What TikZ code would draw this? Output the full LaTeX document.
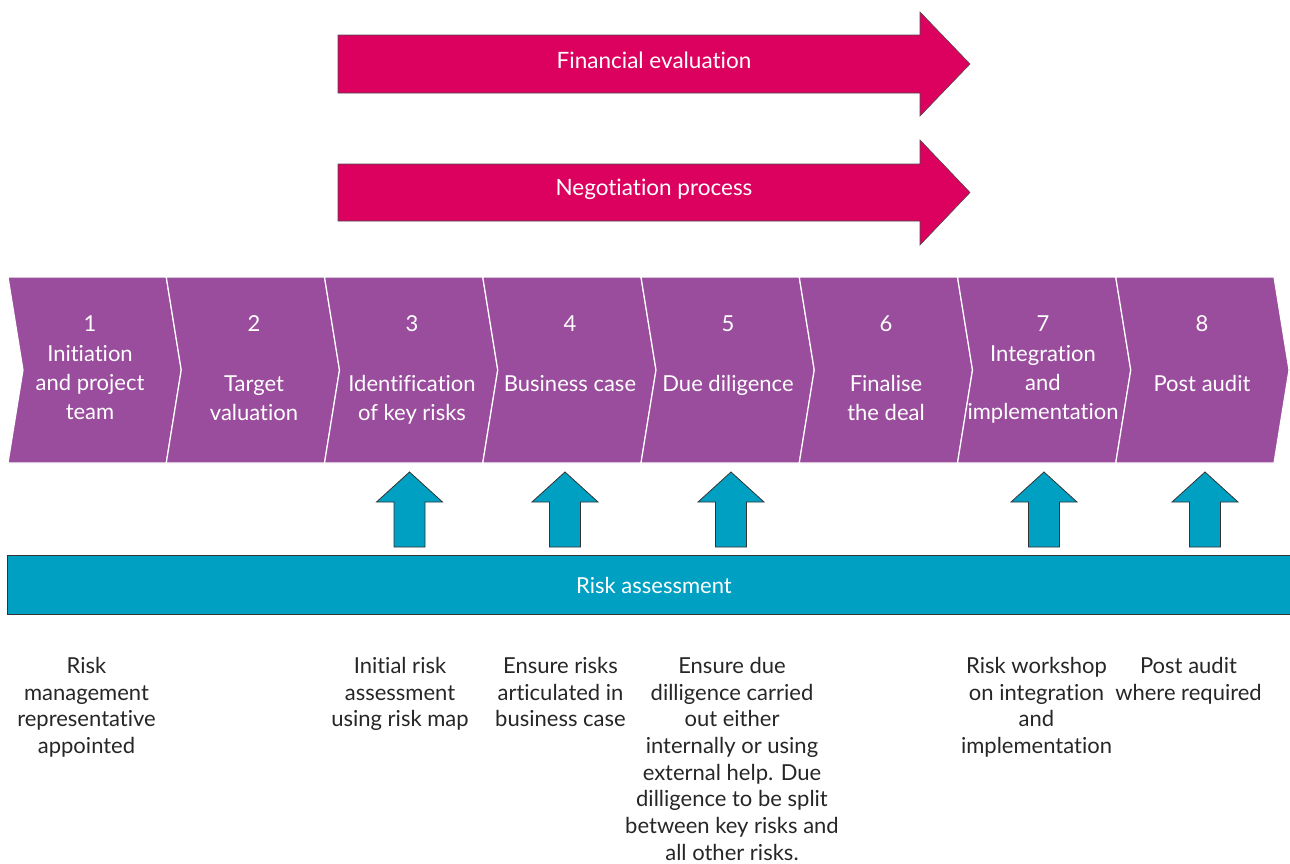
\documentclass[tikz,border=0pt]{standalone}
\usepackage{fontspec}
\setmainfont{Lato}[Ligatures=NoCommon]
\definecolor{stagepurple}{RGB}{154,77,157}
\definecolor{evalpink}{RGB}{220,0,95}
\definecolor{riskteal}{RGB}{0,160,195}
\begin{document}
\begin{tikzpicture}[
        x=1pt, y=-1pt,
        stage/.style={fill=stagepurple, draw=white, line width=1.2pt},
        bigarrow/.style={fill=evalpink, draw=black!70, line width=0.6pt},
        uparrow/.style={fill=riskteal, draw=black!80, line width=0.8pt},
        lbl/.style={font=\fontsize{22}{29}\selectfont, text=white, align=center, inner sep=0pt},
        note/.style={font=\fontsize{22}{26.7}\selectfont, text=black!85, align=center, inner sep=0pt, anchor=north}
    ]
    \useasboundingbox (0,0) rectangle (1290,863);

    % Top arrows
    \draw[bigarrow] (338,35) -- (920,35) -- (920,12) -- (970,64) -- (920,116) -- (920,93) -- (338,93) -- cycle;
    \node[lbl, font=\fontsize{22.5}{29}\selectfont] (fin) at (654,60.5) {Financial evaluation};
    \draw[bigarrow] (338,164) -- (920,164) -- (920,140) -- (970,192.5) -- (920,245) -- (920,221) -- (338,221) -- cycle;
    \node[lbl, font=\fontsize{22.5}{29}\selectfont] (neg) at (654,189) {Negotiation process};

    % Stages
    \foreach \i/\cx/\ty/\txt in {
        0/90/345.5/{Initiation\\and project\\team},
        1/254/375.5/{Target\\valuation},
        2/412/375.5/{Identification\\of key risks},
        3/570/375.5/{Business case},
        4/728/375.5/{Due diligence},
        5/886/375.5/{Finalise\\the deal},
        6/1043/345.5/{Integration\\and\\implementation},
        7/1202/375.5/{Post audit}}{
        \pgfmathsetmacro{\xl}{8+158.25*\i}
        \pgfmathtruncatemacro{\num}{\i+1}
        \draw[stage] (\xl,277) -- ++(158.25,0) -- ++(15,93) -- ++(-15,93) -- ++(-158.25,0) -- ++(15,-93) -- cycle;
        \node[lbl] (n\num) at (\cx,323.5) {\num};
        \node[lbl, anchor=north] (s\num) at (\cx,\ty) {\txt};
    }

    % Risk assessment
    \node[fill=riskteal, draw=black!80, line width=0.8pt, minimum width=1294pt, minimum height=59pt,
        inner sep=0pt, text=white, font=\fontsize{22}{29}\selectfont] (risk) at (654,585) {Risk assessment};
    \foreach \cx in {409.5,565,731,1044,1205}
        \draw[uparrow] (\cx,472) -- ++(33,30) -- ++(-17.5,0) -- ++(0,45) -- ++(-31,0) -- ++(0,-45) -- ++(-17.5,0) -- cycle;

    % Notes
    \node[note] (r1) at (86.5,657) {Risk\\management\\representative\\appointed};
    \node[note] (r3) at (400,657) {Initial risk\\assessment\\using risk map};
    \node[note] (r4) at (560.5,657) {Ensure risks\\articulated in\\business case};
    \node[note] (r5) at (732,657) {Ensure due\\dilligence carried\\out either\\internally or using\\external help. Due\\dilligence to be split\\between key risks and\\all other risks.};
    \node[note] (r7) at (1036.5,657) {Risk workshop\\on integration\\and\\implementation};
    \node[note] (r8) at (1188.5,657) {Post audit\\where required};

\end{tikzpicture}
\end{document}
